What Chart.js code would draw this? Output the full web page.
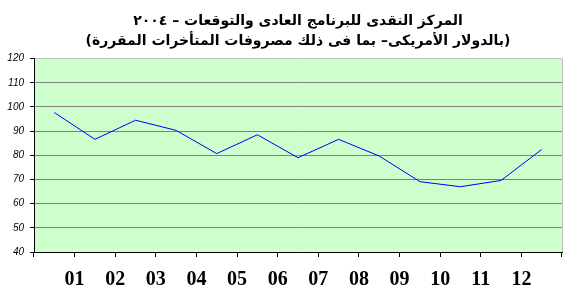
<!DOCTYPE html>
<html>
<head>
<meta charset="utf-8">
<script src="https://cdn.jsdelivr.net/npm/chart.js@4.4.1/dist/chart.umd.min.js"></script>
<style>
html,body{margin:0;padding:0;background:#fff;}
#wrap{width:572px;height:289px;position:relative;}
</style>
</head>
<body>
<div id="wrap"><canvas id="c" width="572" height="289"></canvas></div>
<script>
// Data
const categories = ["1","2","3","4","5","6","7","8","9","10","11","12","13"];
const seriesValues = [97.7, 86.6, 94.5, 90.3, 80.7, 88.5, 79, 86.6, 79.7, 69.1, 67, 69.6, 82.4];
const monthLabels = ["01","02","03","04","05","06","07","08","09","10","11","12"];
const yTicks = [40, 50, 60, 70, 80, 90, 100, 110, 120];
const titleLines = ["المركز النقدى للبرنامج العادى والتوقعات – ٢٠٠٤", "(بالدولار الأمريكى– بما فى ذلك مصروفات المتأخرات المقررة)"];

const plotBg = {
  id: 'plotBg',
  beforeDraw(chart) {
    const a = chart.chartArea, ctx = chart.ctx;
    ctx.save();
    ctx.fillStyle = '#ccffcc';
    ctx.fillRect(a.left, a.top, a.right - a.left, a.bottom - a.top);
    ctx.restore();
  },
  afterDraw(chart) {
    const a = chart.chartArea, ctx = chart.ctx;
    ctx.save();
    ctx.strokeStyle = '#c0c0c0';
    ctx.lineWidth = 1;
    ctx.beginPath();
    ctx.moveTo(Math.round(a.right) + 0.5, a.top);
    ctx.lineTo(Math.round(a.right) + 0.5, a.bottom);
    ctx.stroke();
    ctx.restore();
  }
};

new Chart(document.getElementById('c'), {
  type: 'line',
  data: {
    labels: categories,
    datasets: [{
      data: seriesValues,
      borderColor: '#0000ff',
      borderWidth: 1,
      pointRadius: 0,
      tension: 0,
      fill: false
    }]
  },
  options: {
    responsive: false,
    animation: false,
    devicePixelRatio: 1,
    layout: { padding: { left: 0, right: 10, top: 0, bottom: 0 } },
    plugins: {
      legend: { display: false },
      tooltip: { enabled: false },
      title: {
        display: true,
        fullSize: false,
        text: titleLines,
        color: '#000',
        font: { family: 'DejaVu Sans', size: 14, weight: 'bold', lineHeight: 1.45 },
        padding: { top: 11, bottom: 7 }
      }
    },
    scales: {
      x: {
        type: 'category',
        position: 'bottom',
        offset: true,
        grid: { offset: true, drawOnChartArea: false, drawTicks: true, tickLength: 5, color: '#000' },
        border: { display: true, color: '#000', width: 1 },
        ticks: { display: false },
        afterFit(s) { s.height = 5; }
      },
      xl: {
        type: 'linear',
        position: 'bottom',
        min: -0.5,
        max: 12.5,
        grid: { display: false, drawTicks: false },
        border: { display: false },
        afterBuildTicks(s) { s.ticks = monthLabels.map((_, i) => ({ value: i + 0.5 })); },
        ticks: {
          autoSkip: false,
          maxRotation: 0,
          padding: 11,
          color: '#000',
          font: { family: 'Liberation Serif', size: 20, weight: 'bold' },
          callback(v) { const i = Math.round(v - 0.5); return monthLabels[i] || ''; }
        },
        afterFit(s) { s.height = 32; }
      },
      y: {
        min: 40,
        max: 120,
        afterBuildTicks(s) { s.ticks = yTicks.map(v => ({ value: v })); },
        grid: {
          color: ctx => (ctx.tick && ctx.tick.value === 120) ? '#c0c0c0' : '#808080',
          tickColor: '#000',
          tickLength: 4,
          lineWidth: 1
        },
        border: { display: true, color: '#000', width: 1 },
        ticks: {
          color: '#000',
          padding: 6,
          font: { family: 'Liberation Sans', size: 10, style: 'italic' }
        },
        afterFit(s) { s.width = 34; }
      }
    }
  },
  plugins: [plotBg]
});
</script>
</body>
</html>
